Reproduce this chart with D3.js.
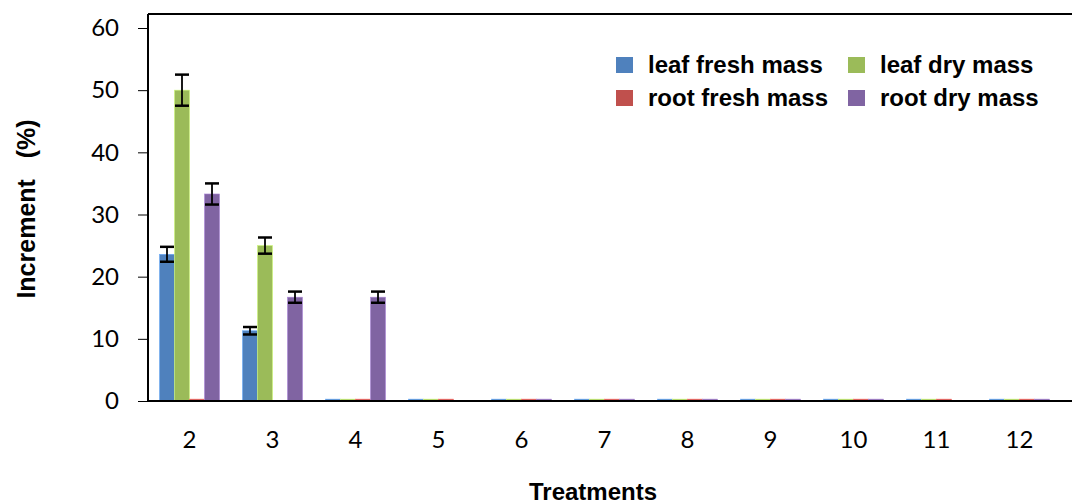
<!DOCTYPE html>
<html>
<head>
<meta charset="utf-8">
<script src="https://cdn.jsdelivr.net/npm/d3@7"></script>
<style>
  body { margin: 0; background: #fff; }
  svg { display: block; }
</style>
</head>
<body>
<div id="chart"></div>
<script>
// chart values
var treatments = ["2", "3", "4", "5", "6", "7", "8", "9", "10", "11", "12"];
var seriesNames = ["leaf fresh mass", "leaf dry mass", "root fresh mass", "root dry mass"];
var seriesColors = ["#4F81BD", "#9BBB59", "#C0504D", "#8064A2"];
var leafFresh = [23.6, 11.3, 0.3, 0.3, 0.3, 0.3, 0.3, 0.3, 0.3, 0.3, 0.3];
var leafDry   = [50.0, 25.0, 0.3, 0.3, 0.3, 0.3, 0.3, 0.3, 0.3, 0.3, 0.3];
var rootFresh = [0.3, 0, 0.3, 0.3, 0.3, 0.3, 0.3, 0.3, 0.3, 0.3, 0.3];
var rootDry   = [33.3, 16.7, 16.7, 0, 0.3, 0.3, 0.3, 0.3, 0.3, 0, 0.3];
var leafFreshErr = [1.2, 0.6, 0, 0, 0, 0, 0, 0, 0, 0, 0];
var leafDryErr   = [2.5, 1.3, 0, 0, 0, 0, 0, 0, 0, 0, 0];
var rootFreshErr = [0, 0, 0, 0, 0, 0, 0, 0, 0, 0, 0];
var rootDryErr   = [1.7, 0.9, 0.9, 0, 0, 0, 0, 0, 0, 0, 0];
var yTicks = [0, 10, 20, 30, 40, 50, 60];

var values = [leafFresh, leafDry, rootFresh, rootDry];
var errors = [leafFreshErr, leafDryErr, rootFreshErr, rootDryErr];

var width = 1072, height = 500;
var margin = {top: 14, left: 148, bottom: 401};

var svg = d3.select("#chart").append("svg")
    .attr("width", width)
    .attr("height", height);

var x = d3.scaleBand()
    .domain(treatments)
    .range([148, 1061])
    .paddingInner(0.277)
    .paddingOuter(0.1385);

var xs = d3.scaleBand()
    .domain(d3.range(4))
    .range([0, x.bandwidth()]);

var y = d3.scaleLinear()
    .domain([0, 60])
    .range([401, 28]);

// flatten to one record per bar
var bars = [];
treatments.forEach(function(t, i) {
    values.forEach(function(v, s) {
        bars.push({t: t, s: s, v: v[i], e: errors[s][i]});
    });
});

// bars
svg.append("g").selectAll("rect")
    .data(bars.filter(function(d) { return d.v > 0; }))
    .enter().append("rect")
    .attr("x", function(d) { return x(d.t) + xs(d.s); })
    .attr("y", function(d) { return y(d.v); })
    .attr("width", xs.bandwidth())
    .attr("height", function(d) { return y(0) - y(d.v); })
    .style("fill", function(d) { return seriesColors[d.s]; })
    .style("stroke", function(d) { return d3.color(seriesColors[d.s]).brighter(0.8); })
    .style("stroke-width", 0.6);

// error bars
var eb = svg.append("g").selectAll("g")
    .data(bars.filter(function(d) { return d.e > 0; }))
    .enter().append("g")
    .attr("stroke", "#000")
    .attr("stroke-width", 2.5);

eb.append("line")
    .attr("x1", function(d) { return x(d.t) + xs(d.s) + xs.bandwidth() / 2; })
    .attr("x2", function(d) { return x(d.t) + xs(d.s) + xs.bandwidth() / 2; })
    .attr("y1", function(d) { return y(d.v + d.e); })
    .attr("y2", function(d) { return y(d.v - d.e); })
    .attr("stroke-width", 1.8);

[1, -1].forEach(function(sign) {
    eb.append("line")
        .attr("x1", function(d) { return x(d.t) + xs(d.s) + xs.bandwidth() / 2 - 7; })
        .attr("x2", function(d) { return x(d.t) + xs(d.s) + xs.bandwidth() / 2 + 7; })
        .attr("y1", function(d) { return y(d.v + sign * d.e); })
        .attr("y2", function(d) { return y(d.v + sign * d.e); });
});

// frame: top line, left axis, bottom axis
svg.append("line")
    .attr("x1", margin.left).attr("x2", width)
    .attr("y1", margin.top).attr("y2", margin.top)
    .attr("stroke", "#000").attr("stroke-width", 2);

var yAxis = svg.append("g")
    .attr("transform", "translate(" + margin.left + ",0)")
    .call(d3.axisLeft(y).tickValues(yTicks).tickSize(10).tickPadding(19));
yAxis.select(".domain")
    .attr("d", "M0," + margin.top + "V" + y(0))
    .attr("stroke-width", 2);
yAxis.selectAll(".tick line").attr("stroke-width", 1);
yAxis.selectAll("text")
    .style("font-family", "Lato, 'Open Sans', sans-serif")
    .style("font-size", "24px")
    .attr("fill", "#000");

var xAxis = svg.append("g")
    .attr("transform", "translate(0," + y(0) + ")")
    .call(d3.axisBottom(x).tickSize(0).tickPadding(30));
xAxis.select(".domain")
    .attr("d", "M" + margin.left + ",0H" + width)
    .attr("stroke-width", 2);
xAxis.selectAll("text")
    .style("font-family", "Lato, 'Open Sans', sans-serif")
    .style("font-size", "24px")
    .attr("fill", "#000");

// axis titles
svg.append("text")
    .attr("transform", "translate(35,209) rotate(-90)")
    .attr("text-anchor", "middle")
    .style("font-family", "'Liberation Sans', Arial, sans-serif")
    .style("font-weight", "bold")
    .style("font-size", "25px")
    .style("white-space", "pre")
    .text("Increment   (%)");

svg.append("text")
    .attr("x", 593)
    .attr("y", 500)
    .attr("text-anchor", "middle")
    .style("font-family", "'Liberation Sans', Arial, sans-serif")
    .style("font-weight", "bold")
    .style("font-size", "24px")
    .text("Treatments");

// legend
var legendOrder = [0, 1, 2, 3];
var legend = svg.append("g").selectAll("g")
    .data(legendOrder)
    .enter().append("g")
    .attr("transform", function(d, i) {
        return "translate(" + (i % 2 === 0 ? 616 : 848) + "," + (i < 2 ? 57 : 90) + ")";
    });

legend.append("rect")
    .attr("width", 17)
    .attr("height", 16)
    .style("fill", function(d) { return seriesColors[d]; });

legend.append("text")
    .attr("x", 32)
    .attr("y", 16)
    .style("font-family", "'Liberation Sans', Arial, sans-serif")
    .style("font-weight", "bold")
    .style("font-size", "24px")
    .text(function(d) { return seriesNames[d]; });
</script>
</body>
</html>
